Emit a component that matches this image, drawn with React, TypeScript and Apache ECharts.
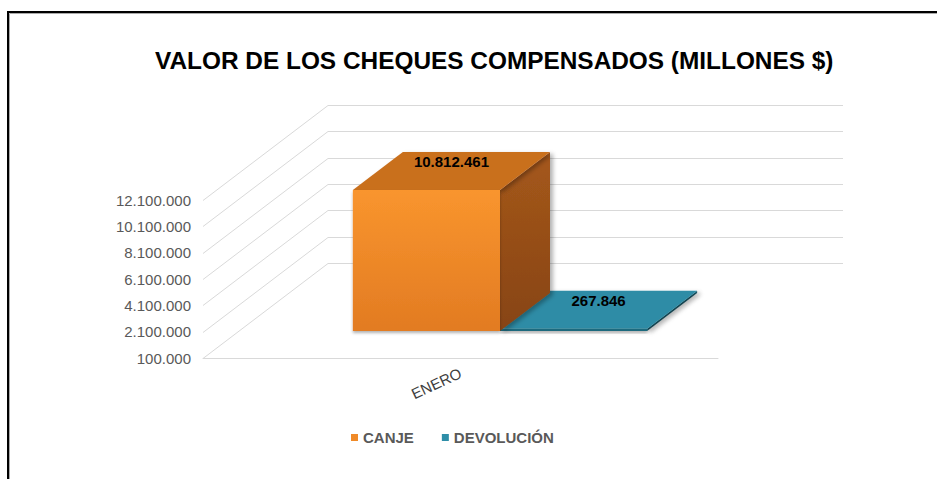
import React, { useEffect, useRef } from 'react';
import * as echarts from 'echarts';

const CATEGORIES = ['ENERO'];
const SERIES_NAMES = ['CANJE', 'DEVOLUCIÓN'];
const CANJE = [10812461];
const DEVOLUCION = [267846];
const Y_MIN = 100000;
const Y_MAX = 12100000;
const Y_STEP = 2000000;
const TICKS = [100000, 2100000, 4100000, 6100000, 8100000, 10100000, 12100000];

const FONT = '"Liberation Sans", Arial, sans-serif';
const DEPTH = [125, -95];
const BAR_OFF = [39.5, -27];
const BAR_DEPTH = [50, -38];

function fmt(n: number): string {
  return Math.round(n).toString().replace(/\B(?=(\d{3})+(?!\d))/g, '.');
}

const PALETTES = [
  {
    legend: '#F08A28',
    front: new echarts.graphic.LinearGradient(0, 0, 0, 1, [
      { offset: 0, color: '#F9952E' },
      { offset: 1, color: '#E27B22' },
    ]),
    top: '#C96F1F',
    side: new echarts.graphic.LinearGradient(0, 0, 0, 1, [
      { offset: 0, color: '#A5581B' },
      { offset: 1, color: '#874414' },
    ]),
  },
  {
    legend: '#2E8EA8',
    front: '#1E6B7E',
    top: '#2D8CA6',
    side: '#1A5C6D',
  },
];

function barRenderer(idx: number) {
  const pal = PALETTES[idx];
  return (params: any, api: any) => {
    const cat = api.value(0);
    const v = api.value(1);
    const top = api.coord([cat, v]);
    const base = api.coord([cat, Y_MIN]);
    const catW = api.size([1, 0])[0];
    const barW = catW / 3.5;
    const x0 = top[0] - barW + idx * barW + BAR_OFF[0];
    const x1 = x0 + barW;
    const yt = top[1] + BAR_OFF[1];
    const yb = base[1] + BAR_OFF[1];
    const dx = BAR_DEPTH[0];
    const dy = BAR_DEPTH[1];
    return {
      type: 'group',
      children: [
        {
          type: 'polygon',
          shape: { points: [[x1, yt], [x1 + dx, yt + dy], [x1 + dx, yb + dy], [x1, yb]] },
          style: { fill: pal.side, shadowColor: 'rgba(0,0,0,0.3)', shadowBlur: 4, shadowOffsetX: 3, shadowOffsetY: 2 },
        },
        {
          type: 'polygon',
          shape: { points: [[x0, yt], [x0 + dx, yt + dy], [x1 + dx, yt + dy], [x1, yt]] },
          style: { fill: pal.top, shadowColor: 'rgba(0,0,0,0.3)', shadowBlur: 4, shadowOffsetX: 3, shadowOffsetY: 2 },
        },
        {
          type: 'polygon',
          shape: { points: [[x0, yt], [x1, yt], [x1, yb], [x0, yb]] },
          style: { fill: pal.front, shadowColor: 'rgba(0,0,0,0.3)', shadowBlur: 3, shadowOffsetY: 2 },
        },
        {
          type: 'text',
          x: (x0 + x1 + dx) / 2,
          y: yt + dy / 2 - 9,
          style: {
            text: fmt(v),
            fill: '#000',
            fontSize: 15,
            fontWeight: 'bold',
            fontFamily: FONT,
            align: 'center',
            verticalAlign: 'middle',
            textAlign: 'center',
            textVerticalAlign: 'middle',
          },
        },
      ],
    };
  };
}

export default function App() {
  const ref = useRef<HTMLDivElement>(null);
  useEffect(() => {
    document.body.style.margin = '0';
    const chart = echarts.init(ref.current!, undefined, { renderer: 'svg' });
    chart.setOption({
      animation: false,
      backgroundColor: '#fff',
      textStyle: { fontFamily: FONT },
      title: {
        text: 'VALOR DE LOS CHEQUES COMPENSADOS (MILLONES $)',
        left: 155,
        top: 48,
        padding: 0,
        textStyle: { fontSize: 24.4, fontWeight: 'bold', color: '#000', fontFamily: FONT },
      },
      legend: {
        data: SERIES_NAMES,
        left: 351,
        top: 430,
        icon: 'rect',
        itemWidth: 7,
        itemHeight: 7,
        itemGap: 28,
        padding: 0,
        textStyle: { fontSize: 15, fontWeight: 'bold', color: '#595959', fontFamily: FONT },
      },
      grid: { left: 203, right: 219, top: 200, bottom: 121 },
      xAxis: {
        type: 'category',
        data: CATEGORIES,
        axisLine: { lineStyle: { color: '#d9d9d9' } },
        axisTick: { show: false },
        axisLabel: { rotate: 25, margin: 14, fontSize: 15, color: '#404040', fontFamily: FONT },
      },
      yAxis: {
        type: 'value',
        min: Y_MIN,
        max: Y_MAX,
        interval: Y_STEP,
        axisLine: { show: false },
        axisTick: { show: false },
        splitLine: { show: false },
        axisLabel: { formatter: (v: number) => fmt(v), fontSize: 15, color: '#595959', margin: 12, fontFamily: FONT },
      },
      graphic: [
        { type: 'rect', shape: { x: 8, y: 12, width: 1000, height: 600 }, style: { fill: 'none', stroke: '#000', lineWidth: 2 } },
        { type: 'rect', shape: { x: 9.5, y: 13.5, width: 1000, height: 600 }, style: { fill: 'none', stroke: '#aaa', lineWidth: 1 } },
      ],
      series: [
        {
          type: 'custom',
          name: 'grid3d',
          silent: true,
          z: 1,
          encode: { x: 0, y: 1 },
          data: TICKS.map((t) => [0, t]),
          renderItem: (params: any, api: any) => {
            const v = api.value(1);
            const cs = params.coordSys;
            const p = api.coord([0, v]);
            const xL = cs.x;
            const xR = cs.x + cs.width;
            const y = Math.round(p[1]) + 0.5;
            return {
              type: 'polyline',
              shape: { points: [[xL, y], [xL + DEPTH[0], y + DEPTH[1]], [xR + DEPTH[0], y + DEPTH[1]]] },
              style: { stroke: '#d9d9d9', lineWidth: 1, fill: null },
            };
          },
        },
        {
          type: 'custom',
          name: SERIES_NAMES[0],
          z: 3,
          itemStyle: { color: PALETTES[0].legend },
          encode: { x: 0, y: 1 },
          data: CANJE.map((v, i) => [i, v]),
          renderItem: barRenderer(0),
        },
        {
          type: 'custom',
          name: SERIES_NAMES[1],
          z: 2,
          itemStyle: { color: PALETTES[1].legend },
          encode: { x: 0, y: 1 },
          data: DEVOLUCION.map((v, i) => [i, v]),
          renderItem: barRenderer(1),
        },
      ],
    });
    return () => chart.dispose();
  }, []);
  return <div ref={ref} style={{ position: 'absolute', left: 0, top: 0, width: 937, height: 479 }} />;
}
